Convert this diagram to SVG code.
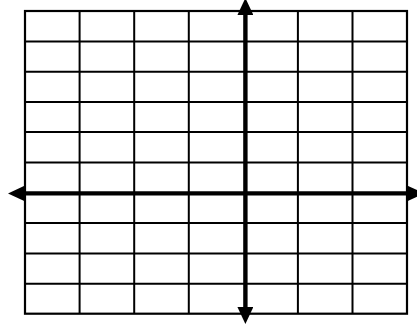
<svg xmlns="http://www.w3.org/2000/svg" width="417" height="326" viewBox="0 0 417 326">
  <style>
    .grid line { stroke: #000; stroke-width: 2; }
    .frame { fill: none; stroke: #000; stroke-width: 2.2; }
    .axis { stroke: #000; stroke-width: 4.4; fill: none; }
  </style>
  <defs>
    <marker id="arrow" markerUnits="userSpaceOnUse" markerWidth="17" markerHeight="16" viewBox="0 0 16 15" refX="0" refY="7.5" orient="auto-start-reverse">
      <path d="M0,0 L16,7.5 L0,15 Z" fill="#000"/>
    </marker>
  </defs>
  <rect x="0" y="0" width="417" height="326" fill="#fff"/>
  <g id="grid" class="grid">
    <line x1="79.6" y1="11" x2="79.6" y2="313.7"/>
    <line x1="134.2" y1="11" x2="134.2" y2="313.7"/>
    <line x1="188.8" y1="11" x2="188.8" y2="313.7"/>
    <line x1="297.9" y1="11" x2="297.9" y2="313.7"/>
    <line x1="352.5" y1="11" x2="352.5" y2="313.7"/>
    <line x1="25" y1="41.5" x2="407" y2="41.5"/>
    <line x1="25" y1="71.7" x2="407" y2="71.7"/>
    <line x1="25" y1="101.9" x2="407" y2="101.9"/>
    <line x1="25" y1="132.1" x2="407" y2="132.1"/>
    <line x1="25" y1="162.4" x2="407" y2="162.4"/>
    <line x1="25" y1="223" x2="407" y2="223"/>
    <line x1="25" y1="253.6" x2="407" y2="253.6"/>
    <line x1="25" y1="283.8" x2="407" y2="283.8"/>
    <rect class="frame" x="25" y="11" width="382" height="302.7"/>
  </g>
  <g id="axes">
    <line id="x-axis" class="axis" x1="25" y1="193.4" x2="407" y2="193.4" marker-start="url(#arrow)" marker-end="url(#arrow)"/>
    <line id="y-axis" class="axis" x1="245.4" y1="307" x2="245.4" y2="15" marker-start="url(#arrow)" marker-end="url(#arrow)"/>
  </g>
</svg>
